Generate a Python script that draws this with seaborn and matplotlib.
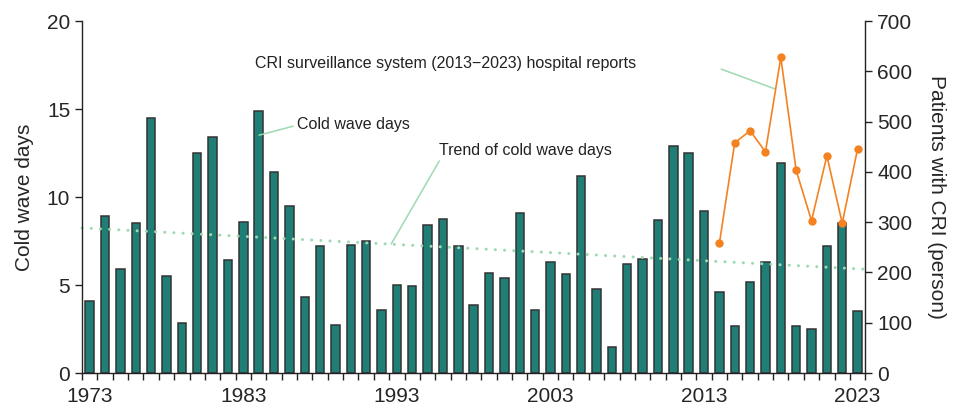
import matplotlib
matplotlib.use("Agg")
import matplotlib.pyplot as plt
import seaborn as sns
import pandas as pd
import numpy as np

years = list(range(1973, 2024))
cold_wave_days = [4.1, 8.9, 5.9, 8.5, 14.5, 5.5, 2.85, 12.5, 13.4, 6.4,
                  8.6, 14.9, 11.4, 9.5, 4.3, 7.2, 2.75, 7.3, 7.5, 3.6,
                  5.0, 4.95, 8.4, 8.75, 7.2, 3.85, 5.7, 5.4, 9.1, 3.6,
                  6.3, 5.6, 11.2, 4.75, 1.5, 6.2, 6.5, 8.7, 12.9, 12.5,
                  9.2, 4.6, 2.7, 5.2, 6.3, 11.95, 2.7, 2.5, 7.2, 8.5, 3.5]
cri_years = [2014, 2015, 2016, 2017, 2018, 2019, 2020, 2021, 2022, 2023]
cri_patients = [258, 458, 482, 440, 628, 403, 303, 432, 298, 446]
trend_years = [1972.5, 2023.5]
trend_values = [8.25, 5.9]
xtick_years = [1973, 1983, 1993, 2003, 2013, 2023]

sns.set_style("ticks")
plt.rcParams["font.family"] = ["Liberation Sans", "DejaVu Sans"]

bar_color = "#1f7f77"
edge_color = "#333333"
orange = "#f58220"
green = "#9dd9b1"

fig = plt.figure(figsize=(9.54, 4.07), dpi=100)
ax = fig.add_axes([0.086, 0.0835, 0.821, 0.8645])

df = pd.DataFrame({"year": years, "days": cold_wave_days})
sns.barplot(data=df, x="year", y="days", order=years, color=bar_color,
            saturation=1, width=0.55, edgecolor=edge_color, linewidth=1.1, ax=ax)

tdf = pd.DataFrame({"x": np.array(trend_years) - years[0], "y": trend_values})
sns.lineplot(data=tdf, x="x", y="y", ax=ax, color=green, linewidth=2.2,
             linestyle=(0, (0.01, 3.0)), dash_capstyle="round", clip_on=False)

ax.set_xlim(-0.5, len(years) - 0.5)
ax.set_ylim(0, 20)
ax.set_yticks([0, 5, 10, 15, 20])
ax.set_xticks([y - years[0] for y in xtick_years])
ax.set_xticklabels([str(y) for y in xtick_years])
ax.set_xticks(np.arange(-0.5, len(years), 1.0), minor=True)
ax.tick_params(axis="x", which="major", length=0, labelsize=15, pad=10)
ax.tick_params(axis="x", which="minor", length=5, width=1, color="#222222", direction="out")
ax.tick_params(axis="y", length=5, width=1, labelsize=15, color="#222222", direction="out")
ax.set_xlabel("")
ax.set_ylabel("Cold wave days", fontsize=15, labelpad=9)
for s in ["top", "right"]:
    ax.spines[s].set_visible(False)
for s in ["left", "bottom"]:
    ax.spines[s].set_linewidth(1)
    ax.spines[s].set_color("#222222")

ax2 = ax.twinx()
cdf = pd.DataFrame({"x": np.array(cri_years) - years[0], "y": cri_patients})
sns.lineplot(data=cdf, x="x", y="y", ax=ax2, color=orange, linewidth=1.2,
             marker="o", markersize=6, markeredgewidth=0)
ax2.set_ylim(0, 700)
ax2.set_yticks(range(0, 701, 100))
ax2.set_xlim(-0.5, len(years) - 0.5)
ax2.tick_params(axis="y", length=5, width=1, labelsize=15, color="#222222", direction="out")
ax2.set_ylabel("Patients with CRI (person)", fontsize=15, rotation=270, labelpad=24)
ax2.set_xlabel("")
for s in ["top", "left", "bottom"]:
    ax2.spines[s].set_visible(False)
ax2.spines["right"].set_linewidth(1)
ax2.spines["right"].set_color("#222222")

txt_kw = dict(fontsize=11.5, color="#222222", va="center", ha="left")
line_kw = dict(arrowstyle="-", color=green, lw=1.1, shrinkA=0, shrinkB=0)
ax.text(10.77, 17.6, "CRI surveillance system (2013\u22122023) hospital reports", **txt_kw)
ax.annotate("", xy=(44.65, 16.14), xytext=(41.13, 17.27), arrowprops=line_kw)
ax.text(13.5, 14.15, "Cold wave days", **txt_kw)
ax.annotate("", xy=(11.03, 13.52), xytext=(13.25, 14.03), arrowprops=line_kw)
ax.text(22.76, 12.67, "Trend of cold wave days", **txt_kw)
ax.annotate("", xy=(19.63, 7.33), xytext=(22.76, 12.05), arrowprops=line_kw)

fig.savefig("out.png", dpi=100)
